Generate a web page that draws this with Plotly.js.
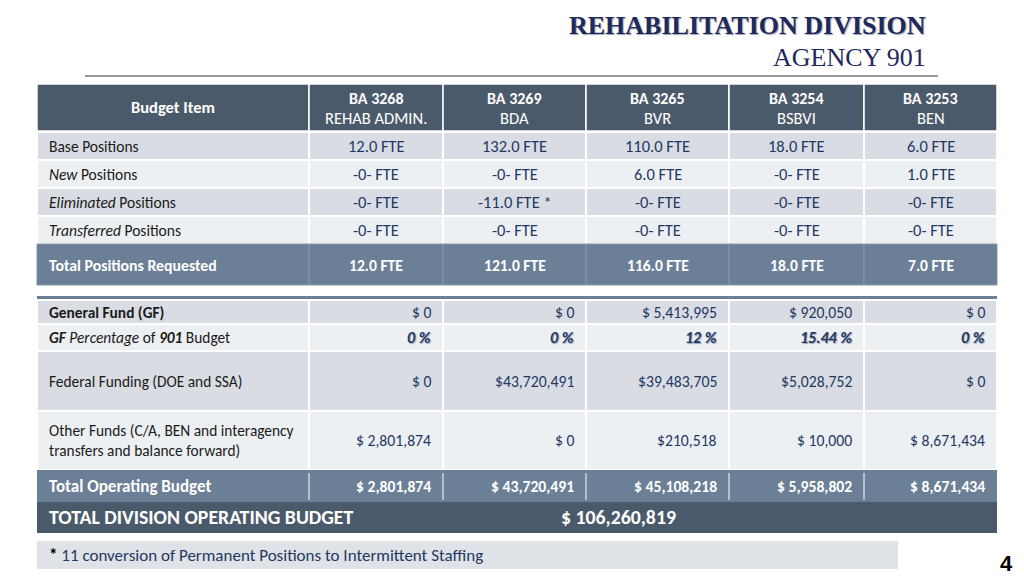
<!DOCTYPE html>
<html><head><meta charset="utf-8">
<script src="https://cdn.plot.ly/plotly-3.0.1.min.js"></script>
<style>html,body{margin:0;padding:0;background:#fff}#chart{width:1024px;height:576px}</style>
</head><body><div id="chart"></div>
<script>
// ---------------- DATA ----------------
const budgetCodes = ['BA 3268', 'BA 3269', 'BA 3265', 'BA 3254', 'BA 3253'];
const programs = ['REHAB ADMIN.', 'BDA', 'BVR', 'BSBVI', 'BEN'];
const positionLabels = ['Base Positions', '<i>New</i> Positions', '<i>Eliminated</i> Positions', '<i>Transferred</i> Positions'];
const basePositions = [12, 132, 110, 18, 6];
const newPositions = [0, 0, 6, 0, 1];
const eliminatedPositions = [0, -11, 0, 0, 0];
const transferredPositions = [0, 0, 0, 0, 0];
const totalPositions = [12, 121, 116, 18, 7];
const generalFund = [0, 0, 5413995, 920050, 0];
const gfPercent = ['0', '0', '12', '15.44', '0'];
const federalFunding = [0, 43720491, 39483705, 5028752, 0];
const otherFunds = [2801874, 0, 210518, 10000, 8671434];
const totalOperating = [2801874, 43720491, 45108218, 5958802, 8671434];
const divisionTotal = 106260819;
const footnoteText = '11 conversion of Permanent Positions to Intermittent Staffing';

// ---------------- DRAWING ----------------
const F = 'Carlito, Lato, "Open Sans", sans-serif';
const NAVY = '#1f3864';
const HEAD = '#4b5a6b';
const SLATE = '#6b7f96';
const DARKROW = '#d9dde3';
const LIGHTROW = '#edf0f3';
const colEdges = [37, 309, 443, 586, 729, 864, 997];
const shapes = [], ann = [];

function rect(x0, x1, y0, y1, fill, lw, lc) {
  shapes.push({type: 'rect', xref: 'x', yref: 'y', x0, x1, y0, y1, fillcolor: fill,
    line: {width: lw || 0, color: lc || '#ffffff'}, layer: 'below'});
}
function line(x0, x1, y0, y1, color, w) {
  shapes.push({type: 'line', xref: 'x', yref: 'y', x0, x1, y0, y1, line: {color, width: w}});
}
function txt(x, y, t, o) {
  o = o || {};
  ann.push({xref: 'x', yref: 'y', x, y, text: t, showarrow: false,
    xanchor: o.xa || 'center', yanchor: 'middle', align: o.align || 'left',
    font: Object.assign({family: F, size: o.size || 14, color: o.color || NAVY}, o.font || {})});
}
const fte = v => v === 0 ? '-0- FTE' : v.toFixed(1) + ' FTE';
const money = (v, sp) => '$' + (sp ? ' ' : '') + v.toLocaleString('en-US');

// Title
txt(928, 25, 'REHABILITATION DIVISION', {xa: 'right', size: 26, color: '#1f2a5c',
  font: {family: '"Liberation Serif", "DejaVu Serif", serif', weight: 700, shadow: '1px 1px 1px #9aa0b0'}});
txt(928, 57, 'AGENCY 901', {xa: 'right', size: 26, color: '#1f2a5c',
  font: {family: '"Liberation Serif", "DejaVu Serif", serif'}});
line(85, 938, 76, 76, '#333333', 1.2);

const n = budgetCodes.length;
const cx = c => (colEdges[c] + colEdges[c + 1]) / 2;

// Table 1 header
for (let c = 0; c <= n; c++) rect(colEdges[c], colEdges[c + 1], 84, 131, HEAD, 1.5, '#ffffff');
txt(cx(0), 107, '<b>Budget Item</b>', {color: '#ffffff', size: 16.5});
budgetCodes.forEach((b, i) => {
  txt(cx(i + 1), 98, '<b>' + b + '</b>', {color: '#ffffff', size: 16});
  txt(cx(i + 1), 118, programs[i], {color: '#ffffff', size: 16.5});
});

// Table 1 body
const posRows = [basePositions, newPositions, eliminatedPositions, transferredPositions];
const rowY = [[132, 160], [160, 188], [188, 216], [216, 244]];
posRows.forEach((arr, r) => {
  const [y0, y1] = rowY[r];
  const fill = r % 2 === 0 ? DARKROW : LIGHTROW;
  for (let c = 0; c <= n; c++) rect(colEdges[c], colEdges[c + 1], y0, y1, fill, 2, '#ffffff');
  const ym = (y0 + y1) / 2;
  txt(47, ym, positionLabels[r], {xa: 'left', size: 15.5, color: '#1a1a1a'});
  arr.forEach((v, i) => {
    let s = fte(v);
    if (r === 2 && v < 0) s += ' *';
    txt(cx(i + 1), ym, s, {size: 16.5});
  });
});
// Total positions
for (let c = 0; c <= n; c++) rect(colEdges[c], colEdges[c + 1], 244, 285, SLATE, 1, '#8496ab');
txt(47, 265, '<b>Total Positions Requested</b>', {xa: 'left', size: 15.8, color: '#ffffff'});
totalPositions.forEach((v, i) => txt(cx(i + 1), 265, '<b>' + v.toFixed(1) + ' FTE</b>', {size: 15.6, color: '#ffffff'}));

// Table 2
rect(37, 997, 296, 300, SLATE, 0);
const fundRows = [
  {y: [300, 324], fill: DARKROW, label: '<b>General Fund (GF)</b>', vals: generalFund.map(v => money(v, true))},
  {y: [324, 351], fill: LIGHTROW, label: '<b><i>GF</i></b> <i>Percentage</i> of <b><i>901</i></b> Budget', vals: gfPercent.map(p => p + ' %'), pct: true},
  {y: [351, 411], fill: DARKROW, label: 'Federal Funding (DOE and SSA)', vals: federalFunding.map((v, i) => money(v, [1, 0, 0, 0, 1][i]))},
  {y: [411, 470], fill: LIGHTROW, label: 'Other Funds (C/A, BEN and interagency<br>transfers and balance forward)', vals: otherFunds.map((v, i) => money(v, [1, 1, 0, 1, 1][i]))}
];
fundRows.forEach(row => {
  const [y0, y1] = row.y;
  for (let c = 0; c <= n; c++) rect(colEdges[c], colEdges[c + 1], y0, y1, row.fill, 2, '#ffffff');
  const ym = (y0 + y1) / 2;
  txt(47, ym, row.label, {xa: 'left', size: 15.4, color: '#1a1a1a'});
  row.vals.forEach((s, i) => {
    if (row.pct) {
      txt(colEdges[i + 2] - 10, ym, s, {xa: 'right', size: 16, color: NAVY,
        font: {weight: 700, style: 'italic', shadow: '1px 1px 1px #9aa3b3'}});
    } else {
      txt(colEdges[i + 2] - 10, ym, s, {xa: 'right', size: 15.7});
    }
  });
});
// Total operating budget
rect(37, 997, 470, 502, SLATE, 0);
for (let c = 1; c <= n; c++) line(colEdges[c], colEdges[c], 473, 500, '#ffffff', 1);
txt(47, 486, '<b>Total Operating Budget</b>', {xa: 'left', size: 17, color: '#ffffff'});
totalOperating.forEach((v, i) => txt(colEdges[i + 2] - 10, 486, '<b>' + money(v, true) + '</b>', {xa: 'right', size: 15.7, color: '#ffffff'}));
// Division total
rect(37, 997, 502, 533, HEAD, 0);
txt(47, 517, '<b>TOTAL DIVISION OPERATING BUDGET</b>', {xa: 'left', size: 19.8, color: '#ffffff'});
txt(559, 517, '<b>' + money(divisionTotal, true) + '</b>', {xa: 'left', size: 19.8, color: '#ffffff'});

// Footnote
rect(37, 898, 541, 569, '#dfe2e6', 0);
txt(47, 555, '<b>*</b> <span style="color:' + NAVY + '">' + footnoteText + '</span>', {xa: 'left', size: 17, color: '#000000'});

// Page number
txt(1006, 563, '<b>4</b>', {size: 22, color: '#000000', font: {family: '"Liberation Sans Narrow", "Liberation Sans", sans-serif'}});

const layout = {
  width: 1024, height: 576, margin: {l: 0, r: 0, t: 0, b: 0},
  paper_bgcolor: '#ffffff', plot_bgcolor: '#ffffff', showlegend: false,
  xaxis: {range: [0, 1024], visible: false, fixedrange: true},
  yaxis: {range: [576, 0], visible: false, fixedrange: true},
  shapes, annotations: ann
};
Plotly.newPlot('chart', [{x: [], y: [], type: 'scatter', mode: 'markers', hoverinfo: 'skip'}], layout,
  {staticPlot: true, displayModeBar: false});
</script></body></html>
